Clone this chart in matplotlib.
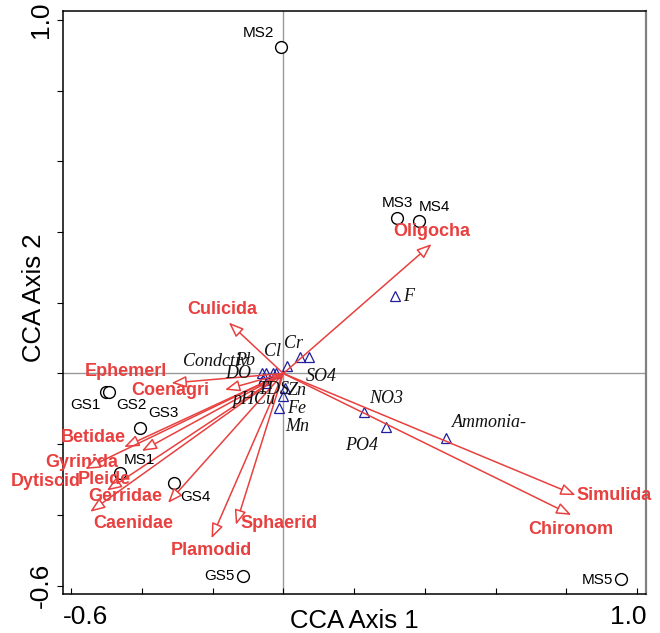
import matplotlib
matplotlib.use("Agg")
import matplotlib.pyplot as plt
from matplotlib.transforms import ScaledTranslation

RED = '#e8403f'
NAVY = '#1f1f9e'

# sample sites
site_names = ["MS2", "MS3", "MS4", "GS1", "GS2", "GS3", "MS1", "GS4", "GS5", "MS5"]
site_x = [-0.007, 0.322, 0.383, -0.501, -0.492, -0.405, -0.462, -0.309, -0.113, 0.954]
site_y = [0.924, 0.441, 0.430, -0.051, -0.051, -0.154, -0.281, -0.309, -0.572, -0.581]

# species arrows (tip coordinates)
spec_names = ["Oligocha", "Simulida", "Chironom", "Culicida", "Ephemerl", "Coenagri",
              "Betidae", "Gyrinida", "Dytiscid", "Pleide", "Gerridae", "Caenidae",
              "Sphaerid", "Plamodid"]
spec_x = [0.419, 0.826, 0.814, -0.154, -0.316, -0.165,
          -0.400, -0.450, -0.560, -0.499, -0.546, -0.326, -0.134, -0.203]
spec_y = [0.366, -0.344, -0.400, 0.144, -0.027, -0.046,
          -0.219, -0.208, -0.270, -0.331, -0.391, -0.366, -0.428, -0.466]

# environmental variables
env_names = ["F", "Ammonia-", "NO3", "PO4", "SO4", "Cr", "Cl", "Condctiv", "Pb", "DO",
             "pH", "Cu", "TDS", "Zn", "Fe", "Mn"]
env_x = [0.317, 0.459, 0.227, 0.289, 0.072, 0.047, 0.011, -0.061, -0.030, -0.049,
         -0.057, -0.049, -0.022, 0.005, -0.012, -0.001]
env_y = [0.220, -0.181, -0.109, -0.152, 0.048, 0.046, 0.022, 0.001, 0.001, 0.001,
         -0.018, -0.026, 0.001, -0.042, -0.098, -0.063]

# label offsets in pixels (dx, dy)
site_off = [(-22, 14), (0, 15), (16, 14), (-21, -13), (22, -13), (23, 15), (20, 13),
            (21, -14), (-24, 0), (-23, -1)]
spec_off = [(0, 13), (39, 0), (0, -15), (-7, 13), (-46, 12), (-55, -1),
            (-49, 13), (-42, -15), (-39, -13), (-2, 11), (35, 15), (-35, -21),
            (43, 1), (0, -12)]
env_off = [(13, -1), (44, 15), (23, 14), (-24, -18), (13, -20), (-6, 14), (-15, 14),
           (-46, 12), (-28, 13), (-28, 0), (-20, -20), (-1, -17), (-2, -16),
           (12, -2), (18, 0), (14, -31)]

fig = plt.figure(figsize=(6.6, 6.33), dpi=100)
ax = fig.add_axes([0.0955, 0.0616, 0.883, 0.9205])
ax.set_xlim(-0.6226, 1.0246)
ax.set_ylim(-0.6235, 1.024)

ax.axhline(0, color='#999999', lw=1, zorder=0)
ax.axvline(0, color='#999999', lw=1, zorder=0)

# species arrows
for name, x, y, off in zip(spec_names, spec_x, spec_y, spec_off):
    ax.annotate("", xy=(x, y), xytext=(0, 0),
                arrowprops=dict(arrowstyle='-|>,head_length=0.9,head_width=0.35',
                                fc='white', ec=RED, lw=1.1, shrinkA=0, shrinkB=0))
    ax.annotate(name, xy=(x, y), xytext=off, textcoords='offset pixels',
                ha='center', va='center', color=RED, fontsize=13,
                fontweight='bold', family='Liberation Sans')

# environmental variables
ax.plot(env_x, env_y, ls='none', marker='^', ms=6.5, mfc='none', mec=NAVY, mew=0.9)
for name, x, y, off in zip(env_names, env_x, env_y, env_off):
    ax.annotate(name, xy=(x, y), xytext=off, textcoords='offset pixels',
                ha='center', va='center', fontsize=13, style='italic',
                family='Liberation Serif', color='#111111')

# sites
ax.plot(site_x, site_y, ls='none', marker='o', ms=8.5, mfc='white', mec='black', mew=1)
for name, x, y, off in zip(site_names, site_x, site_y, site_off):
    ax.annotate(name, xy=(x, y), xytext=off, textcoords='offset pixels',
                ha='center', va='center', fontsize=11, family='Liberation Sans')

ticks = [-0.6, -0.4, -0.2, 0.0, 0.2, 0.4, 0.6, 0.8, 1.0]
tlabels = ['-0.6', '', '', '', '', '', '', '', '1.0']
ax.set_xticks(ticks)
ax.set_xticklabels(tlabels, fontsize=19, family='Liberation Sans')
ax.set_yticks(ticks)
ax.set_yticklabels(tlabels, fontsize=19, family='Liberation Sans', rotation=90, va='center')
ax.tick_params(axis='x', direction='in', length=4, pad=8)
ax.tick_params(axis='y', direction='out', length=4, pad=3)

xl = ax.get_xticklabels()
xl[0].set_ha('left')
xl[0].set_transform(xl[0].get_transform() + ScaledTranslation(-0.08, 0, fig.dpi_scale_trans))
xl[-1].set_transform(xl[-1].get_transform() + ScaledTranslation(-0.09, 0, fig.dpi_scale_trans))

ax.set_xlabel("CCA Axis 1", fontsize=18.5, family='Liberation Sans')
ax.set_ylabel("CCA Axis 2", fontsize=18.5, family='Liberation Sans')
ax.xaxis.set_label_coords(0.5, -0.025)
ax.yaxis.set_label_coords(-0.03, 0.508)

for s in ax.spines.values():
    s.set_linewidth(1.1)
ax.spines['right'].set_color('#808080')
ax.spines['right'].set_linewidth(1.6)

fig.savefig("out.png", dpi=100)
